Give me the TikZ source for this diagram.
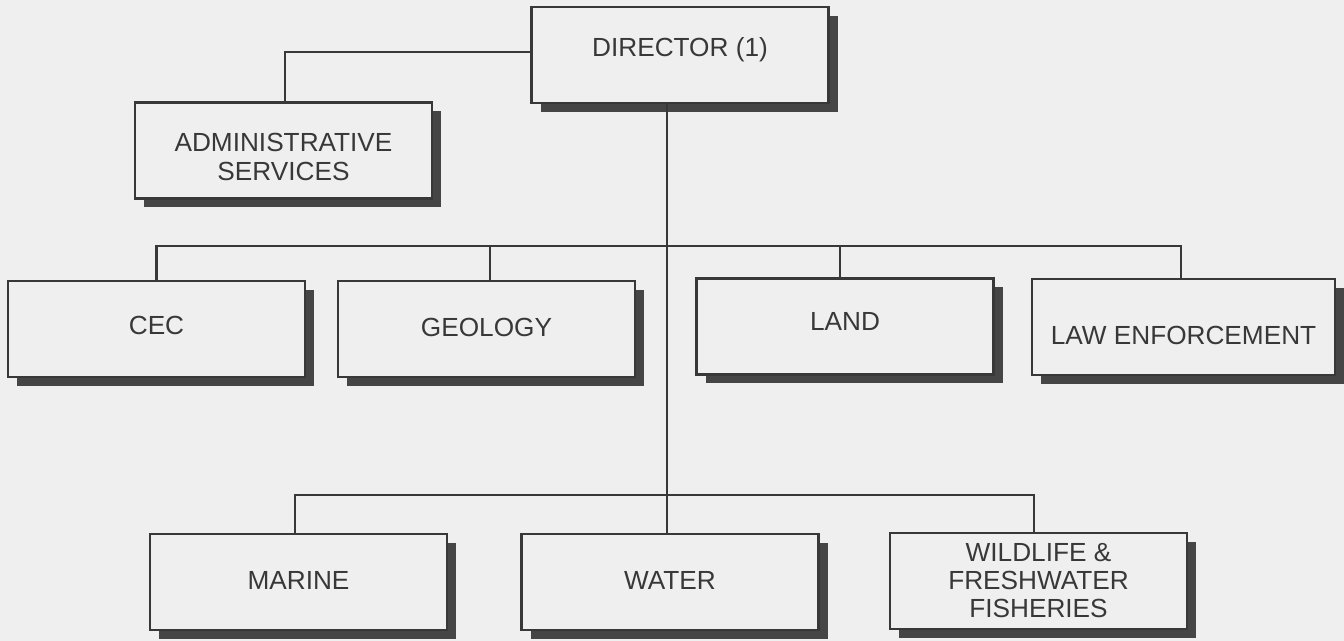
\documentclass[tikz,border=0pt]{standalone}
\usepackage{fontspec}
\setmainfont{Liberation Sans}
\usetikzlibrary{shadows}
\definecolor{paper}{HTML}{EFEFEF}
\definecolor{ink}{HTML}{383838}
\definecolor{shade}{HTML}{454545}
\tikzset{
    unit/.style={draw=ink, fill=paper, line width=1.4pt, minimum width=148.5pt,
        minimum height=48pt, align=center, text=ink, font=\fontsize{13.1}{14}\selectfont,
        general shadow={draw=none, fill=shade, shadow xshift=4.5pt, shadow yshift=-4.5pt}},
    lift/.style={text height=9.5pt, text depth=#1},
    sink/.style={text height=#1, text depth=0pt},
    link/.style={draw=ink, line width=1.4pt}
}
\begin{document}
\begin{tikzpicture}[x=0.5pt, y=-0.5pt]
                \fill[paper] (0,0) rectangle (1344,641);
                \useasboundingbox (0,0) rectangle (1344,641);
                % boxes
                \node[unit, lift=8pt] (dir) at (680,55) {DIRECTOR (1)};
                \node[unit] (admin) at (283.5,150.5) {\rule{0pt}{16pt}ADMINISTRATIVE\\[0.5pt]SERVICES};
                \node[unit, lift=4pt] (cec) at (156.5,329) {CEC};
                \node[unit, lift=2pt] (geo) at (486.5,329) {GEOLOGY};
                \node[unit, lift=5pt] (land) at (845,326.5) {LAND};
                \node[unit, sink=17.5pt, minimum width=151.5pt] (law) at (1183.5,327) {LAW ENFORCEMENT};
                \node[unit, lift=2pt] (marine) at (298.5,582) {MARINE};
                \node[unit, lift=2pt] (water) at (670,582) {WATER};
                \node[unit] (wild) at (1038.5,581) {WILDLIFE \&\\FRESHWATER\\FISHERIES};
                % buses
                \coordinate (top) at (667,246);
                \coordinate (mid) at (667,495);
                \draw[link] ([yshift=1.5pt]dir.west) -| ([xshift=0.75pt]admin.north);
                \draw[link] (dir.south -| top) -- (top) -- (mid) -- (water.north -| mid);
                \draw[link] (cec.north) |- (top) -| ([xshift=-1.25pt]law.north);
                \foreach \p/\s in {geo/1.75pt,land/-2.5pt} {
                    \draw[link] ([xshift=\s]\p.north) -- ([xshift=\s]\p.north |- top);
                }
                \draw[link] ([xshift=-1.75pt]marine.north) |- (mid) -| ([xshift=-2.25pt]wild.north);
            \end{tikzpicture}
\end{document}
